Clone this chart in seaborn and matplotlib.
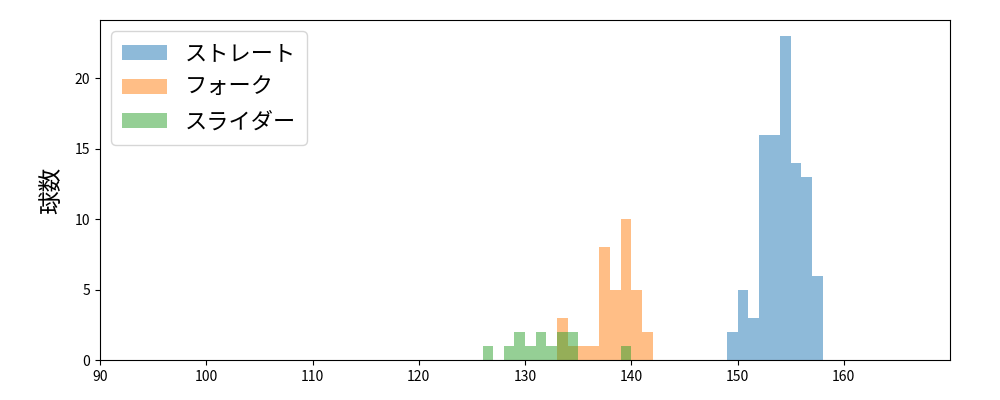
import matplotlib
matplotlib.use("Agg")
import matplotlib.pyplot as plt
import seaborn as sns
import numpy as np
import pandas as pd

plt.rcParams['font.family'] = ['Noto Sans CJK JP', 'DejaVu Sans']

# bin left edges (1 km/h wide bins) and counts
straight_bins = [149, 150, 151, 152, 153, 154, 155, 156, 157]
straight_counts = [2, 5, 3, 16, 16, 23, 14, 13, 6]

fork_bins = [133, 134, 135, 136, 137, 138, 139, 140, 141]
fork_counts = [3, 1, 1, 1, 8, 5, 10, 5, 2]

slider_bins = [126, 127, 128, 129, 130, 131, 132, 133, 134, 135, 136, 137, 138, 139]
slider_counts = [1, 0, 1, 2, 1, 2, 1, 2, 2, 0, 0, 0, 0, 1]

labels = ["ストレート", "フォーク", "スライダー"]
colors = ["#1f77b4", "#ff7f0e", "#2ca02c"]

fig, ax = plt.subplots(figsize=(10, 4), dpi=100)
fig.subplots_adjust(left=0.1, right=0.95, top=0.95, bottom=0.1)

for bins, counts, lab, col in zip([straight_bins, fork_bins, slider_bins],
                                  [straight_counts, fork_counts, slider_counts],
                                  labels, colors):
    b = np.array(bins, dtype=float)
    speeds = np.repeat(b + 0.5, counts)
    df = pd.DataFrame({"speed": speeds})
    sns.histplot(data=df, x="speed", binwidth=1, binrange=(b[0], b[-1] + 1),
                 color=col, alpha=0.5, linewidth=0, ax=ax, label=lab)

ax.set_xlim(90, 170)
ax.set_ylim(0, 24.15)
ax.set_xticks(np.arange(90, 161, 10))
ax.set_yticks([0, 5, 10, 15, 20])
ax.set_xlabel("")
ax.set_ylabel("球数", fontsize=17, labelpad=8)
ax.tick_params(labelsize=10)
ax.legend(loc="upper left", fontsize=16, borderpad=0.5)

fig.savefig("out.png", dpi=100)
